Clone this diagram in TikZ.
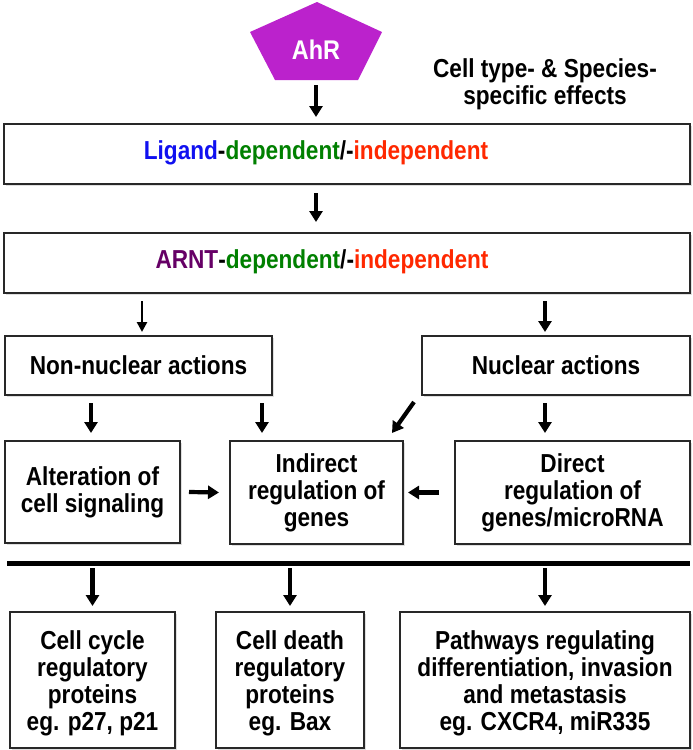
\documentclass[tikz,border=0pt]{standalone}
\usepackage{fontspec}
\setmainfont{Liberation Sans}[FakeStretch=0.87]
\usetikzlibrary{arrows.meta,shadows}
\definecolor{ligblue}{RGB}{16,16,240}
\definecolor{depgreen}{RGB}{0,128,0}
\definecolor{indred}{RGB}{255,40,0}
\definecolor{arntpurple}{RGB}{102,0,102}
\definecolor{ahrmag}{RGB}{187,34,204}
\definecolor{boxline}{RGB}{40,40,40}
\begin{document}
\begin{tikzpicture}[x=1pt,y=-1pt,
  every node/.style={font=\fontsize{26}{27}\selectfont\bfseries},
  box/.style={draw=boxline,line width=2pt,fill=white,inner sep=0pt,align=center,
    drop shadow={shadow xshift=2pt,shadow yshift=-2pt,opacity=0.25,fill=gray}},
  arr/.style={line width=4.2pt,-{Triangle[width=13pt,length=11pt]}},
  thinarr/.style={line width=2.6pt,-{Triangle[width=10pt,length=10pt]}}]
\useasboundingbox (0,0) rectangle (693,750);
% AhR pentagon
\fill[ahrmag] (317,2) -- (382,32) -- (358,80) -- (275,80) -- (250,32) -- cycle;
\node[text=white,font=\fontsize{27}{27}\selectfont\bfseries] (ahr) at (316,50) {AhR};
\coordinate (ahrtip) at (316,80);
\node[align=center] (cell) at (545,84) {Cell type- \& Species-\\specific effects};
% boxes
\node[box,minimum width=686,minimum height=60] (lig) at (347,154) {};
\node (ligtxt) at (316,153)
  {\textcolor{ligblue}{Ligand}-\textcolor{depgreen}{dependent}/-\textcolor{indred}{independent}};
\node[box,minimum width=686,minimum height=60] (arnt) at (347,263) {};
\node (arnttxt) at (322,262)
  {\textcolor{arntpurple}{ARNT}-\textcolor{depgreen}{dependent}/-\textcolor{indred}{independent}};
\node[box,minimum width=267,minimum height=59] (nonnuc) at (138.5,365.5) {Non-nuclear actions};
\node[box,minimum width=268,minimum height=59] (nuc) at (556,365.5) {Nuclear actions};
\node[box,minimum width=175,minimum height=102] (alter) at (92.5,492) {Alteration of\\cell signaling};
\node[box,minimum width=173,minimum height=103] (indir) at (316.5,492.5) {Indirect\\regulation of\\genes};
\node[box,minimum width=235,minimum height=103] (direct) at (572.5,492.5) {Direct\\regulation of\\genes/microRNA};
\coordinate (barL) at (7,563);
\coordinate (barR) at (690,563);
\draw[line width=5pt] (barL) -- (barR);
\node[box,minimum width=165,minimum height=136] (cyc) at (92.5,680) {};
\node (cyctxt) at (92.5,683) [align=center] {Cell cycle\\regulatory\\proteins\\eg. p27, p21};
\node[box,minimum width=148,minimum height=136] (death) at (290,680) {};
\node (deathtxt) at (290,683) [align=center] {Cell death\\regulatory\\proteins\\eg. Bax};
\node[box,minimum width=290,minimum height=136] (path) at (545,680) {};
\node (pathtxt) at (545,683) [align=center] {Pathways regulating\\differentiation, invasion\\and metastasis\\eg. CXCR4, miR335};
% arrows
\draw[arr] ([yshift=-5pt]ahrtip) -- ([yshift=6pt]lig.north -| ahrtip);
\draw[arr] ([yshift=-8pt]lig.south -| ahrtip) -- ([yshift=10pt]arnt.north -| ahrtip);
\draw[thinarr] ([yshift=-7pt]arnt.south -| 142,0) -- ([yshift=3pt]nonnuc.north -| 142,0);
\draw[arr] ([yshift=-7pt]arnt.south -| 545,0) -- ([yshift=3pt]nuc.north -| 545,0);
\draw[arr] ([yshift=-7pt]nonnuc.south -| 91,0) -- ([yshift=7pt]alter.north -| 91,0);
\draw[arr] ([yshift=-7pt]nonnuc.south -| 262,0) -- ([yshift=7pt]indir.north -| 262,0);
\draw[arr] ([xshift=-7pt,yshift=-6pt]nuc.south west) -- ([xshift=-12pt,yshift=7pt]indir.north east);
\draw[arr] ([yshift=-7pt]nuc.south -| 545,0) -- ([yshift=7pt]direct.north -| 545,0);
\draw[arr] ([xshift=8pt]alter.east) -- ([xshift=-10pt]indir.west);
\draw[arr] ([xshift=-15pt]direct.west) -- ([xshift=4pt]indir.east);
\draw[arr] ([yshift=-5pt]barL -| cyc.north) -- ([yshift=5pt]cyc.north);
\draw[arr] ([yshift=-5pt]barL -| death.north) -- ([yshift=5pt]death.north);
\draw[arr] ([yshift=-5pt]barL -| path.north) -- ([yshift=5pt]path.north);
\end{tikzpicture}
\end{document}
